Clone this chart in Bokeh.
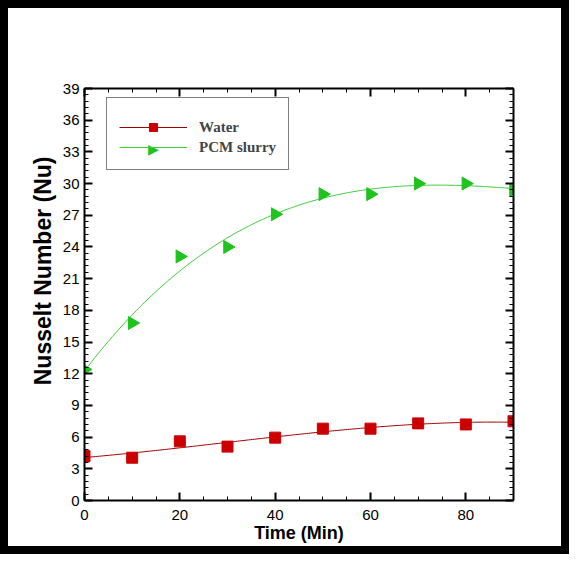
import numpy as np
from bokeh.plotting import figure
from bokeh.models import (Range1d, LinearAxis, SingleIntervalTicker, Legend, LegendItem,
                          Label, Title)
from bokeh.embed import file_html
from bokeh.resources import INLINE

# ---- data ----
time_min = [0, 10, 20, 30, 40, 50, 60, 70, 80, 90]
nu_water = [4.2, 4.05, 5.6, 5.1, 5.95, 6.8, 6.8, 7.3, 7.2, 7.5]
nu_pcm = [12.4, 16.8, 23.1, 24.0, 27.1, 29.0, 29.0, 30.0, 30.0, 29.4]
series_names = ["Water", "PCM slurry"]
x_title = "Time (Min)"
y_title = "Nusselt Number (Nu)"

# trend curves (least-squares fit of the plotted points, as in the original)
xs_fit = np.linspace(0, 90, 200)
water_fit = np.polyval(np.polyfit(time_min, nu_water, 3), xs_fit)
pcm_fit = np.polyval(np.polyfit(time_min, nu_pcm, 3), xs_fit)

RED = "#cc0000"
RED_LINE = "#a00000"
GREEN = "#1ec31e"
GREEN_LINE = "#3ccc3c"

BORDER = 8
W, H = 569, 554
FL, FR, FT, FB = 85, 513, 89, 500          # frame edges in picture pixels
p = figure(width=W, height=H, output_backend="svg", toolbar_location=None,
           x_range=Range1d(0, 90), y_range=Range1d(0, 39),
           min_border_left=FL - 1 - BORDER, min_border_right=W + BORDER - FR,
           min_border_top=FT - 1 - BORDER, min_border_bottom=H + BORDER - FB,
           x_axis_location=None, y_axis_location=None)
p.grid.visible = False
p.outline_line_color = None
p.background_fill_color = "white"
p.border_fill_color = "white"
# black picture frame
p.styles = {"border": f"{BORDER}px solid black"}

def style_axis(ax, show_labels):
    ax.axis_line_width = 2
    ax.axis_line_color = "black"
    ax.major_tick_in = 8
    ax.major_tick_out = 0
    ax.minor_tick_in = 4
    ax.minor_tick_out = 0
    ax.major_tick_line_width = 2
    ax.major_tick_line_color = "black"
    ax.minor_tick_line_color = "black"
    ax.minor_tick_line_width = 1
    ax.major_label_text_font = "Liberation Sans"
    ax.major_label_text_font_size = "15px"
    ax.major_label_text_color = "black" if show_labels else None
    ax.axis_label_text_font = "Liberation Sans"
    ax.axis_label_text_font_style = "bold"
    ax.axis_label_text_color = "black"

xb = LinearAxis(ticker=SingleIntervalTicker(interval=20, num_minor_ticks=4))
style_axis(xb, True)
xb.axis_label = x_title
xb.axis_label_text_font_size = "18px"
xb.major_label_standoff = 9
xb.axis_label_standoff = 0
p.add_layout(xb, "below")

xt = LinearAxis(ticker=SingleIntervalTicker(interval=20, num_minor_ticks=4))
style_axis(xt, False)
xt.major_label_text_font_size = "0px"
p.add_layout(xt, "above")

yl = LinearAxis(ticker=SingleIntervalTicker(interval=3, num_minor_ticks=5))
style_axis(yl, True)
yl.major_label_standoff = 5
p.add_layout(yl, "left")

# y-axis title (placed a little above the frame centre, as in the original)
p.add_layout(Title(text=y_title, align="right", offset=68, vertical_align="middle",
                   text_font="Liberation Sans", text_font_style="bold",
                   text_font_size="23px", text_color="black", standoff=6), "left")

yr = LinearAxis(ticker=SingleIntervalTicker(interval=3, num_minor_ticks=5))
style_axis(yr, False)
yr.major_label_text_font_size = "0px"
p.add_layout(yr, "right")

lw = p.line(xs_fit, water_fit, line_color=RED_LINE, line_width=1)
sw = p.scatter(time_min, nu_water, marker="square", size=11,
               fill_color=RED, line_color=RED)
lp = p.line(xs_fit, pcm_fit, line_color=GREEN_LINE, line_width=1)
sp = p.scatter(time_min, nu_pcm, marker="triangle", size=13, angle=-np.pi / 2,
               fill_color=GREEN, line_color=GREEN)

FRAME_H = FB - FT

# right-pointing triangle sample for the PCM slurry legend entry
p.add_layout(Label(x=69, y=FRAME_H - 10 - 49, x_units="screen", y_units="screen",
                   text="\u25B6", text_font="DejaVu Sans", text_font_size="14px",
                   text_color=GREEN, text_align="center", text_baseline="middle"))

legend = Legend(items=[LegendItem(label=series_names[0], renderers=[lw, sw]),
                       LegendItem(label=series_names[1], renderers=[lp])],
                location=(22, FRAME_H - 10 - 71), orientation="vertical")
legend.title = " "
legend.title_text_font_size = "5px"
legend.title_standoff = 1
legend.padding = 12
legend.margin = 0
legend.spacing = 0
legend.glyph_width = 68
legend.glyph_height = 20
legend.label_standoff = 12
legend.label_text_font = "Liberation Serif"
legend.label_text_font_style = "bold"
legend.label_text_font_size = "15px"
legend.border_line_color = "black"
legend.border_line_width = 1.5
legend.background_fill_color = "white"
legend.background_fill_alpha = 0
p.add_layout(legend, "center")

open("out.html", "w").write(file_html(p, INLINE))
